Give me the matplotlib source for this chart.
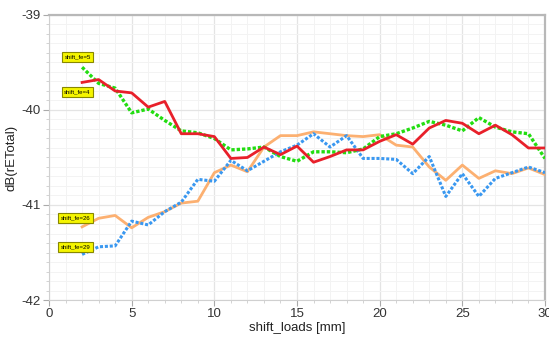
import matplotlib
matplotlib.use("Agg")
import matplotlib.pyplot as plt
from matplotlib.ticker import MultipleLocator

plt.rcParams['font.family'] = ['Liberation Sans', 'DejaVu Sans']
plt.rcParams['axes.unicode_minus'] = False

shift_loads = list(range(2, 31))

fe4 = [-39.71, -39.68, -39.80, -39.82, -39.97, -39.91, -40.25, -40.25, -40.28,
       -40.51, -40.50, -40.39, -40.47, -40.38, -40.55, -40.49, -40.42, -40.42,
       -40.33, -40.26, -40.36, -40.19, -40.11, -40.14, -40.25, -40.16, -40.26,
       -40.40, -40.40]
fe5 = [-39.55, -39.72, -39.77, -40.03, -39.99, -40.11, -40.22, -40.24, -40.30,
       -40.42, -40.41, -40.39, -40.49, -40.54, -40.44, -40.44, -40.45, -40.41,
       -40.28, -40.25, -40.19, -40.12, -40.16, -40.22, -40.08, -40.18, -40.23,
       -40.25, -40.51]
fe26 = [-41.23, -41.14, -41.11, -41.24, -41.13, -41.07, -40.98, -40.96, -40.66,
        -40.58, -40.65, -40.39, -40.27, -40.27, -40.23, -40.25, -40.27, -40.28,
        -40.26, -40.37, -40.39, -40.60, -40.74, -40.58, -40.72, -40.64, -40.67,
        -40.61, -40.68]
fe29 = [-41.52, -41.44, -41.43, -41.17, -41.21, -41.07, -40.97, -40.73, -40.75,
        -40.53, -40.64, -40.54, -40.44, -40.37, -40.25, -40.39, -40.27, -40.51,
        -40.51, -40.52, -40.67, -40.49, -40.91, -40.67, -40.91, -40.72, -40.66,
        -40.60, -40.66]

label_names = ["shift_fe=5", "shift_fe=4", "shift_fe=26", "shift_fe=29"]
label_x = [1.72, 1.72, 1.62, 1.62]
label_y = [-39.44, -39.81, -41.14, -41.44]

fig = plt.figure(figsize=(5.49, 3.40), dpi=100)
ax = fig.add_axes([0.0893, 0.1176, 0.9034, 0.8384])

ax.plot(shift_loads, fe4, color="#e8202a", lw=2.0, solid_joinstyle="round", zorder=5)
ax.plot(shift_loads, fe5, color="#22dd11", lw=2.4, linestyle=(0, (1.0, 0.6)), zorder=4)
ax.plot(shift_loads, fe26, color="#fcb071", lw=2.0, zorder=3)
ax.plot(shift_loads, fe29, color="#3a98f0", lw=2.2, linestyle=(0, (1.0, 0.6)), zorder=3)

for name, lx, ly in zip(label_names, label_x, label_y):
    ax.text(lx, ly, name, fontsize=4.3, ha="center", va="center", color="black", zorder=6,
            bbox=dict(boxstyle="square,pad=0.45", fc="#f5f500", ec="#888800", lw=0.8))

ax.set_xlim(0, 30)
ax.set_ylim(-42, -39)
ax.xaxis.set_major_locator(MultipleLocator(5))
ax.xaxis.set_minor_locator(MultipleLocator(1))
ax.yaxis.set_major_locator(MultipleLocator(1))
ax.yaxis.set_minor_locator(MultipleLocator(0.1))

ax.grid(which="major", color="#e4e4e4", lw=0.9)
ax.grid(which="minor", color="#f3f3f3", lw=0.7)
ax.set_axisbelow(True)

for side in ["left", "bottom"]:
    ax.spines[side].set_color("#d0d0d0")
    ax.spines[side].set_linewidth(0.8)
for side in ["top", "right"]:
    ax.spines[side].set_color("#b8b8b8")
    ax.spines[side].set_linewidth(1.6)

ax.tick_params(which="major", length=4, width=0.8, color="#aaaaaa", labelsize=9.5,
               labelcolor="#333333", pad=2)
ax.tick_params(which="minor", length=2, width=0.6, color="#cccccc")

ax.set_xlabel("shift_loads [mm]", fontsize=9.5, color="#222222", labelpad=1)
ax.set_ylabel("dB(rETotal)", fontsize=9.5, color="#222222", labelpad=3)

fig.savefig("out.png", dpi=100)
